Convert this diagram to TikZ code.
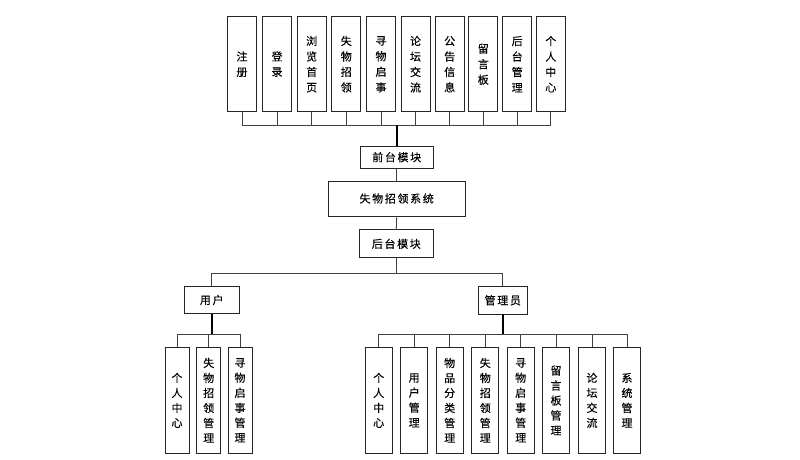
\documentclass[tikz,border=0pt]{standalone}
\usepackage{fontspec}
\setmainfont{Noto Sans CJK SC}[FakeBold=0.25]
\newfontfamily\hz{Noto Sans CJK SC}[LetterSpace=15,FakeBold=0.25]
\begin{document}
\begin{tikzpicture}[x=1pt,y=-1pt,
  vbox/.style={draw=black!85, line width=0.8pt, fill=white, inner sep=0pt,
    align=center, font=\fontsize{11}{15.5}\selectfont},
  topbox/.style={vbox, minimum width=29pt, minimum height=95pt},
  lowbox/.style={vbox, minimum height=106pt, font=\fontsize{11}{15}\selectfont},
  hbox/.style={draw=black!85, line width=0.8pt, fill=white, inner sep=0pt,
    font=\hz\fontsize{11}{13}\selectfont},
  conn/.style={draw=black!75, line width=0.8pt},
  stem/.style={draw=black, line width=1.6pt}
]
\useasboundingbox (0,0) rectangle (800,459);

% top row
\node[topbox] (t1) at (242,64.2) {注\\册};
\node[topbox] (t2) at (277,64.2) {登\\录};
\node[topbox] (t3) at (311.7,64.2) {浏\\览\\首\\页};
\node[topbox] (t4) at (346.3,64.2) {失\\物\\招\\领};
\node[topbox] (t5) at (381,64.2) {寻\\物\\启\\事};
\node[topbox] (t6) at (415.5,64.2) {论\\坛\\交\\流};
\node[topbox] (t7) at (449.7,64.2) {公\\告\\信\\息};
\node[topbox] (t8) at (483.3,64.2) {留\\言\\板};
\node[topbox] (t9) at (517.2,64.2) {后\\台\\管\\理};
\node[topbox] (t10) at (550.8,64.2) {个\\人\\中\\心};

% middle column
\node[hbox, minimum width=73pt, minimum height=22pt] (qt) at (396.7,157.2) {前台模块};
\node[hbox, minimum width=137pt, minimum height=35pt] (sys) at (396.7,198.5) {失物招领系统};
\node[hbox, minimum width=74pt, minimum height=28pt] (ht) at (396.3,243.8) {后台模块};
\node[hbox, minimum width=55pt, minimum height=26.6pt] (user) at (211.8,300) {用户};
\node[hbox, minimum width=49pt, minimum height=27.3pt] (admin) at (502.8,300.3) {管理员};

% user children
\node[lowbox, minimum width=24pt] (u1) at (177,400.3) {个\\人\\中\\心};
\node[lowbox, minimum width=24pt] (u2) at (208.7,400.3) {失\\物\\招\\领\\管\\理};
\node[lowbox, minimum width=24pt] (u3) at (240,400.3) {寻\\物\\启\\事\\管\\理};

% admin children
\node[lowbox, minimum width=27pt] (a1) at (378.7,400.3) {个\\人\\中\\心};
\node[lowbox, minimum width=27pt] (a2) at (414.2,400.3) {用\\户\\管\\理};
\node[lowbox, minimum width=27pt] (a3) at (449.7,400.3) {物\\品\\分\\类\\管\\理};
\node[lowbox, minimum width=27pt] (a4) at (485.3,400.3) {失\\物\\招\\领\\管\\理};
\node[lowbox, minimum width=27pt] (a5) at (520.7,400.3) {寻\\物\\启\\事\\管\\理};
\node[lowbox, minimum width=27pt] (a6) at (556,400.3) {留\\言\\板\\管\\理};
\node[lowbox, minimum width=27pt] (a7) at (592,400.3) {论\\坛\\交\\流};
\node[lowbox, minimum width=27pt] (a8) at (627,400.3) {系\\统\\管\\理};

% bus coordinates
\coordinate (topbus) at (396.7,125);
\coordinate (midbus) at (396.7,273.3);
\coordinate (ubus) at (211.8,334.3);
\coordinate (abus) at (502.8,334.3);

% top connectors
\foreach \i in {1,...,10} {
  \draw[conn] (t\i.south) -- (t\i.south |- topbus);
}
\draw[conn] (t1.south |- topbus) -- (t10.south |- topbus);
\draw[stem] (qt.north) -- (qt.north |- topbus);
\draw[conn] (qt.south) -- (sys.north);
\draw[conn] (sys.south) -- (ht.north);

% second level
\draw[conn] (ht.south) -- (ht.south |- midbus);
\draw[conn] (user.north) -- (user.north |- midbus) -- (admin.north |- midbus) -- (admin.north);

% user children
\draw[stem] (user.south) -- (ubus);
\foreach \i in {1,2,3} {
  \draw[conn] (u\i.north) -- (u\i.north |- ubus);
}
\draw[conn] (u1.north |- ubus) -- (u3.north |- ubus);

% admin children
\draw[stem] (admin.south) -- (abus);
\foreach \i in {1,...,8} {
  \draw[conn] (a\i.north) -- (a\i.north |- abus);
}
\draw[conn] (a1.north |- abus) -- (a8.north |- abus);
\end{tikzpicture}
\end{document}
